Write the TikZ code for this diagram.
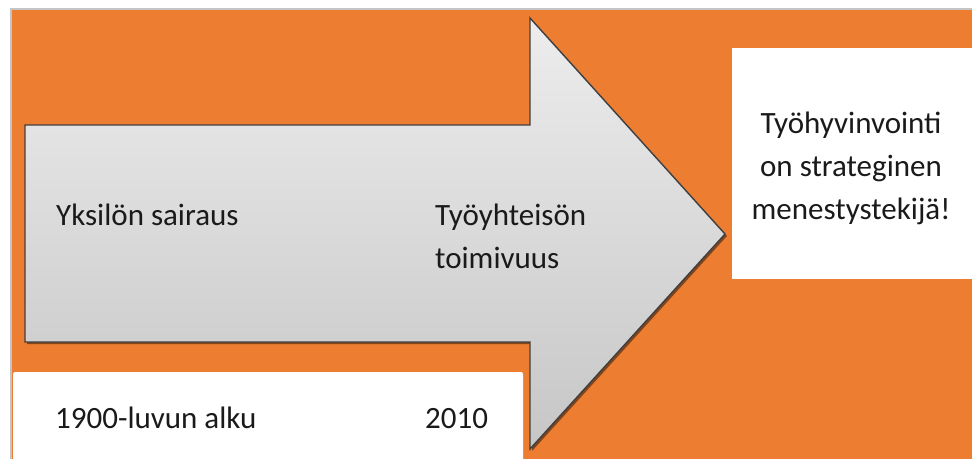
\documentclass[tikz,border=0pt]{standalone}
\usepackage{fontspec}
\setmainfont{Carlito}
\usetikzlibrary{shadows}
\definecolor{bgorange}{HTML}{ED7D31}
\definecolor{framegray}{HTML}{C4C4C4}
\definecolor{arrowtop}{HTML}{EDEDED}
\definecolor{arrowbot}{HTML}{C6C6C6}
\definecolor{outline}{HTML}{3F3F3F}
\definecolor{txt}{HTML}{1A1A1A}
\tikzset{
  whitebox/.style={fill=white, draw=none},
  lbl/.style={font=\fontsize{31}{43}\selectfont, text=txt, inner sep=0pt},
  bigarrow/.style={top color=arrowtop, bottom color=arrowbot, draw=outline, line width=1.4pt, line join=miter,
    drop shadow={shadow xshift=2pt, shadow yshift=-2pt, opacity=0.45, fill=black}}
}
\begin{document}
\begin{tikzpicture}[x=1pt,y=-1pt]
\useasboundingbox (0,0) rectangle (972,459);
\fill[white] (0,0) rectangle (972,459);
\fill[framegray] (10,8) rectangle (972,459);
\fill[bgorange] (12,10) rectangle (972,459);
% arrow
\draw[bigarrow] (25,125) -- (530,125) -- (530,18) -- (725,234) -- (530,449) -- (530,342) -- (25,342) -- cycle;
% boxes
\node[whitebox, minimum width=240pt, minimum height=231pt, anchor=north west, inner sep=0pt] (goal) at (732,48) {};
\draw[whitebox, rounded corners=2pt] (13,372) rectangle (523,465);
\coordinate (tl) at (13,372);
% texts
\node[lbl, anchor=base west] (yks) at (56,225) {Yksilön sairaus};
\node[lbl, anchor=base west, align=left] (tyo) at (435,225) {Työyhteisön};
\node[lbl, anchor=base west] (toim) at (435,268) {toimivuus};
\node[lbl, anchor=base west] (alku) at (55,428) {1900-luvun alku};
\node[lbl, anchor=base west] (y2010) at (425,428) {2010};
\node[lbl, anchor=base] (g1) at (851,133) {Työhyvinvointi};
\node[lbl, anchor=base] (g2) at (851,176) {on strateginen};
\node[lbl, anchor=base] (g3) at (851,219) {menestystekijä!};
\end{tikzpicture}
\end{document}
